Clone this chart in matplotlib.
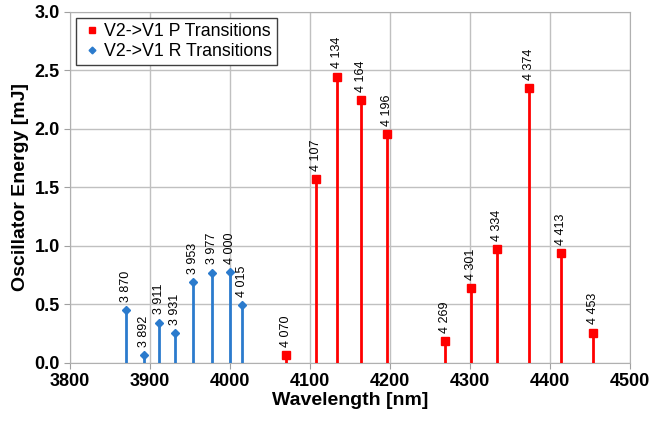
import matplotlib
matplotlib.use('Agg')
import matplotlib.pyplot as plt

plt.rcParams['font.family'] = ['Liberation Sans', 'DejaVu Sans']

# V2->V1 R transitions (blue)
r_wl = [3870, 3892, 3911, 3931, 3953, 3977, 4000, 4015]
r_en = [0.45, 0.066, 0.345, 0.255, 0.69, 0.773, 0.775, 0.496]
# V2->V1 P transitions (red)
p_wl = [4070, 4107, 4134, 4164, 4196, 4269, 4301, 4334, 4374, 4413, 4453]
p_en = [0.068, 1.57, 2.447, 2.245, 1.955, 0.185, 0.64, 0.97, 2.35, 0.94, 0.26]

fig = plt.figure(figsize=(6.49, 4.26), dpi=100)
ax = fig.add_axes([0.108, 0.148, 0.863, 0.824])

red = '#ff0000'
blue = '#2b7bcd'

ax.vlines(p_wl, 0, p_en, color=red, linewidth=2, zorder=3)
ax.vlines(r_wl, 0, r_en, color=blue, linewidth=2, zorder=3)
ax.plot(p_wl, p_en, marker='s', linestyle='None', color=red, markersize=5.2,
        label='V2->V1 P Transitions', zorder=4)
ax.plot(r_wl, r_en, marker='D', linestyle='None', color=blue, markersize=4.3,
        label='V2->V1 R Transitions', zorder=4)

def fmt(w):
  s = str(w)
  return s[0] + ' ' + s[1:]

for w, e in zip(r_wl + p_wl, r_en + p_en):
  ax.annotate(fmt(w), (w, e), xytext=(0, 6), textcoords='offset points',
              rotation=90, ha='center', va='bottom', fontsize=9)

ax.set_xlim(3800, 4500)
ax.set_ylim(0, 3.0)
ax.set_xticks(range(3800, 4501, 100))
ax.set_yticks([0, 0.5, 1.0, 1.5, 2.0, 2.5, 3.0])
ax.set_yticklabels(['%.1f' % v for v in [0, 0.5, 1.0, 1.5, 2.0, 2.5, 3.0]])
for lab in ax.get_xticklabels() + ax.get_yticklabels():
  lab.set_fontweight('bold')
  lab.set_fontsize(13)
ax.tick_params(length=4, color='#a0a0a0')
ax.grid(True, color='#c0c0c0', linewidth=1)
ax.set_axisbelow(True)
for sp in ax.spines.values():
  sp.set_color('#b0b0b0')

ax.set_xlabel('Wavelength [nm]', fontsize=14, fontweight='bold', labelpad=1)
ax.set_ylabel('Oscillator Energy [mJ]', fontsize=14, fontweight='bold', labelpad=4)

leg = ax.legend(loc='upper left', fontsize=12.8, fancybox=False, framealpha=1,
                edgecolor='#404040', handletextpad=0.05, handlelength=1.2,
                borderaxespad=0.35, labelspacing=0.15, markerscale=0.8,
                borderpad=0.3)
leg.get_frame().set_linewidth(1)

plt.savefig('out.png', dpi=100)
